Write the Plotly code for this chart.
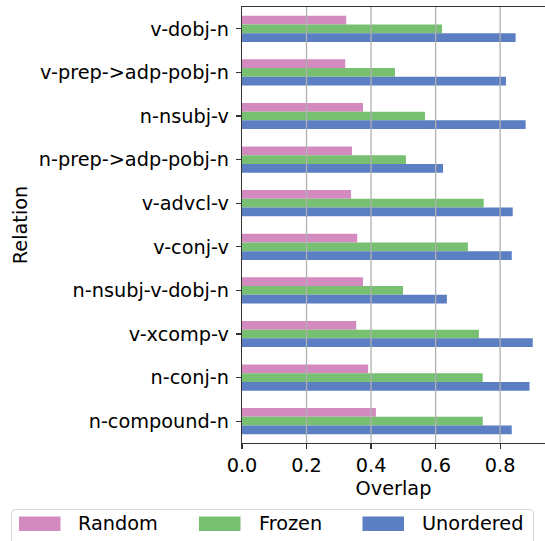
import plotly.graph_objects as go

relations = ["v-dobj-n", "v-prep->adp-pobj-n", "n-nsubj-v", "n-prep->adp-pobj-n",
             "v-advcl-v", "v-conj-v", "n-nsubj-v-dobj-n", "v-xcomp-v",
             "n-conj-n", "n-compound-n"]
random_vals = [0.323, 0.320, 0.375, 0.341, 0.338, 0.357, 0.375, 0.354, 0.391, 0.415]
frozen_vals = [0.620, 0.474, 0.567, 0.508, 0.749, 0.700, 0.499, 0.734, 0.746, 0.746]
unordered_vals = [0.848, 0.818, 0.879, 0.623, 0.839, 0.836, 0.635, 0.901, 0.891, 0.836]
series_names = ["Random", "Frozen", "Unordered"]
series_colors = ["#d38bbf", "#77bf71", "#5b7fc2"]
x_ticks = [0.0, 0.2, 0.4, 0.6, 0.8]

W, H = 545, 541
ML, MR, MT, MB = 242, 0, 7, 98
FONT = "DejaVu Sans"
FS = 19.3

def px_x(p):
    return (p - ML) / (W - ML - MR)

def px_y(p):
    return 1 - (p - MT) / (H - MT - MB)

fig = go.Figure()
for name, vals, col in zip(series_names, [random_vals, frozen_vals, unordered_vals], series_colors):
    fig.add_trace(go.Bar(y=relations, x=vals, orientation="h", name=name,
                         marker=dict(color=col, line=dict(width=0)), showlegend=False))

shapes = []
for t in x_ticks[1:]:
    shapes.append(dict(type="line", xref="x", yref="paper", x0=t, x1=t, y0=0, y1=1,
                       line=dict(color="#b0b0b0", width=1.3), layer="above"))

# custom legend
lx0, lx1, ly0, ly1 = 11.5, 533.5, 509.5, 545
r = 4
path = (f"M{px_x(lx0+r)},{px_y(ly0)} L{px_x(lx1-r)},{px_y(ly0)} "
        f"Q{px_x(lx1)},{px_y(ly0)} {px_x(lx1)},{px_y(ly0+r)} L{px_x(lx1)},{px_y(ly1)} "
        f"L{px_x(lx0)},{px_y(ly1)} L{px_x(lx0)},{px_y(ly0+r)} Q{px_x(lx0)},{px_y(ly0)} {px_x(lx0+r)},{px_y(ly0)} Z")
shapes.append(dict(type="path", xref="paper", yref="paper", path=path,
                   line=dict(color="#d5d5d5", width=1), fillcolor="rgba(255,255,255,0.8)", layer="above"))
annotations = []
sw_x = [19, 199, 362.5]
tx_x = [76, 257, 420]
for name, col, sx, tx in zip(series_names, series_colors, sw_x, tx_x):
    shapes.append(dict(type="rect", xref="paper", yref="paper",
                       x0=px_x(sx), x1=px_x(sx + 41.5), y0=px_y(516.5), y1=px_y(531),
                       fillcolor=col, line=dict(width=0), layer="above"))
    annotations.append(dict(xref="paper", yref="paper", x=px_x(tx), y=px_y(523.5),
                            xanchor="left", yanchor="middle", text=name, showarrow=False,
                            font=dict(family=FONT, size=FS, color="black")))

fig.update_layout(
    width=W, height=H,
    margin=dict(l=ML, r=MR, t=MT, b=MB),
    plot_bgcolor="white", paper_bgcolor="white",
    barmode="group", bargap=0.4, bargroupgap=0,
    font=dict(family=FONT, size=FS, color="black"),
    shapes=shapes, annotations=annotations,
    xaxis=dict(range=[0, 0.939], tickvals=x_ticks, ticktext=[f"{v:.1f}" for v in x_ticks],
               showgrid=False, zeroline=False, showline=True, mirror=True,
               linecolor="#333333", linewidth=1.2, ticks="outside", ticklen=5,
               tickcolor="#333333", tickwidth=1.2,
               title=dict(text="Overlap", standoff=1, font=dict(family=FONT, size=FS))),
    yaxis=dict(categoryorder="array", categoryarray=relations, autorange="reversed",
               showgrid=False, zeroline=False, showline=True, mirror=True,
               linecolor="#333333", linewidth=1.2, ticks="outside", ticklen=5,
               tickcolor="#333333", tickwidth=1.2, ticklabelstandoff=3,
               title=dict(text="Relation", standoff=6, font=dict(family=FONT, size=FS))),
)

fig.write_html("out.html", config={"displayModeBar": False, "staticPlot": True},
               post_script="document.body.style.margin='0';document.body.style.overflow='hidden';")
